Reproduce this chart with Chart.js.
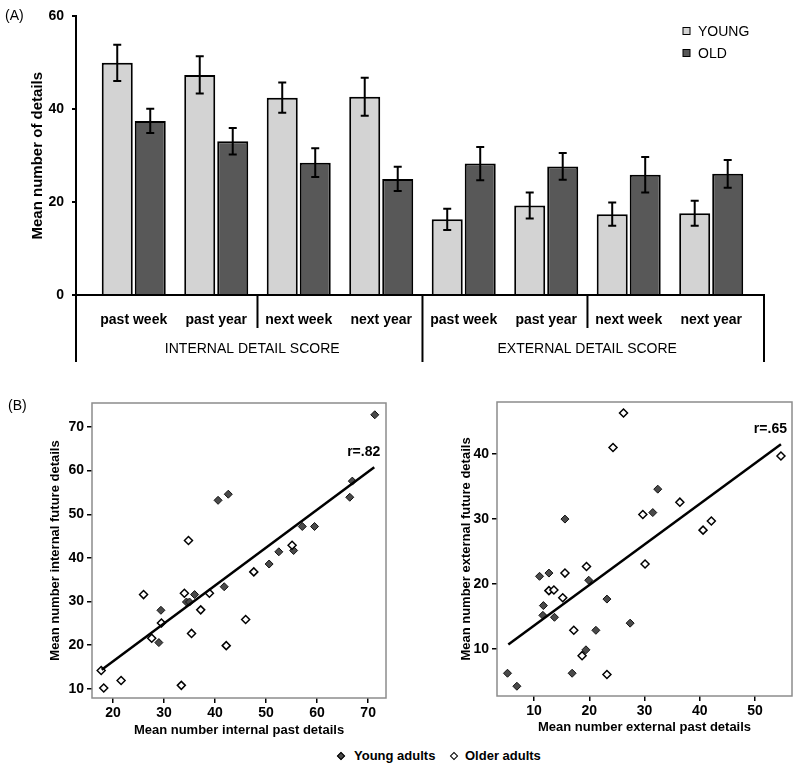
<!DOCTYPE html>
<html>
<head>
<meta charset="utf-8">
<script src="https://cdn.jsdelivr.net/npm/chart.js@4.4.1/dist/chart.umd.min.js"></script>
<style>
  body { margin: 0; background: #fff; }
  #page { position: relative; width: 800px; height: 770px; font-family: 'Liberation Sans', Arial, sans-serif; color: #000; }
  #page canvas { position: absolute; }
  .tag { position: absolute; font-size: 14px; line-height: 16px; }
  .dia { position: absolute; width: 4px; height: 4px; border: 1px solid #000; transform: rotate(45deg); }
  .leg { position: absolute; font-weight: bold; font-size: 13px; line-height: 16px; }
</style>
</head>
<body>
<div id="page">
  <canvas id="barChart" width="800" height="370" style="left:0;top:0"></canvas>
  <canvas id="internalChart" width="400" height="360" style="left:0;top:380px"></canvas>
  <canvas id="externalChart" width="400" height="360" style="left:400px;top:380px"></canvas>

  <div class="tag" style="left:5px;top:7px">(A)</div>
  <div class="tag" style="left:8px;top:397px">(B)</div>

  <div class="dia" style="left:338px;top:753px;background:#4a4a4a"></div>
  <div class="leg" style="left:354px;top:748px">Young adults</div>
  <div class="dia" style="left:451px;top:753px;background:#fff"></div>
  <div class="leg" style="left:465px;top:748px">Older adults</div>
</div>

<script>
const family = "'Liberation Sans', Arial, sans-serif";
Chart.defaults.font.family = family;
Chart.defaults.color = '#000';
Chart.defaults.animation = false;

// panel A
const categories = ['past week', 'past year', 'next week', 'next year', 'past week', 'past year', 'next week', 'next year'];
const groupLabels = ['INTERNAL DETAIL SCORE', 'EXTERNAL DETAIL SCORE'];
const seriesNames = ['YOUNG', 'OLD'];
const youngMeans = [50.0, 47.4, 42.5, 42.7, 16.3, 19.3, 17.4, 17.6];
const youngErrors = [3.9, 4.0, 3.25, 4.1, 2.3, 2.8, 2.5, 2.7];
const oldMeans = [37.5, 33.1, 28.5, 25.0, 28.3, 27.7, 25.9, 26.1];
const oldErrors = [2.6, 2.85, 3.1, 2.6, 3.6, 2.9, 3.8, 3.0];
const barTicks = [0, 20, 40, 60];

// panel B, [past, future]
const internalYoung = [[71.3, 72.8], [66.9, 57.6], [66.4, 53.9], [57.1, 47.2], [59.5, 47.2], [52.5, 41.4], [55.4, 41.7], [50.6, 38.6],
  [41.8, 33.4], [40.6, 53.2], [42.6, 54.6], [36.0, 31.6], [34.4, 29.9], [35.0, 29.9], [29.4, 28.0], [29.0, 20.6]];
const internalOlder = [[17.7, 14.2], [18.2, 10.2], [21.6, 11.9], [26.0, 31.6], [27.6, 21.6], [29.5, 25.1], [33.4, 10.8], [34.0, 31.9],
  [34.8, 44.0], [35.4, 22.7], [37.2, 28.1], [38.9, 31.9], [42.2, 19.9], [46.0, 25.9], [47.6, 36.8], [55.1, 42.9]];
const internalFit = [[17.8, 14.4], [71.2, 60.8]];
const externalYoung = [[5.2, 6.3], [6.9, 4.3], [11.0, 21.2], [12.7, 21.7], [11.7, 16.7], [11.6, 15.2], [13.7, 14.9], [15.6, 30.0],
  [16.9, 6.3], [19.9, 20.6], [19.4, 9.9], [21.2, 12.9], [23.2, 17.7], [27.4, 14.0], [31.5, 31.0], [32.4, 34.6]];
const externalOlder = [[12.7, 19.0], [13.6, 19.1], [15.6, 21.7], [15.2, 17.9], [17.2, 12.9], [18.7, 9.0], [19.5, 22.7], [23.2, 6.1],
  [24.3, 41.0], [26.2, 46.3], [29.7, 30.7], [30.1, 23.1], [36.4, 32.6], [40.6, 28.3], [42.1, 29.7], [54.7, 39.7]];
const externalFit = [[5.35, 10.7], [54.7, 41.5]];

const LIGHT = '#d3d3d3';
const DARK = '#585858';

const errorBars = {
  id: 'errorBars',
  afterDatasetsDraw(chart) {
    const ctx = chart.ctx;
    const y = chart.scales.y;
    const means = [youngMeans, oldMeans];
    const errs = [youngErrors, oldErrors];
    ctx.save();
    ctx.strokeStyle = '#000';
    ctx.lineWidth = 2;
    means.forEach(function(m, d) {
      chart.getDatasetMeta(d).data.forEach(function(bar, i) {
        const top = y.getPixelForValue(m[i] + errs[d][i]);
        const bot = y.getPixelForValue(m[i] - errs[d][i]);
        ctx.beginPath();
        ctx.moveTo(bar.x, top); ctx.lineTo(bar.x, bot);
        ctx.moveTo(bar.x - 4, top); ctx.lineTo(bar.x + 4, top);
        ctx.moveTo(bar.x - 4, bot); ctx.lineTo(bar.x + 4, bot);
        ctx.stroke();
      });
    });
    ctx.restore();
  }
};

const groupAxis = {
  id: 'groupAxis',
  afterDraw(chart) {
    const ctx = chart.ctx;
    const x = chart.scales.x;
    const area = chart.chartArea;
    const mid = x.getPixelForValue(3.5);
    ctx.save();
    ctx.strokeStyle = '#000';
    ctx.lineWidth = 2;
    function drop(px, len) {
      ctx.beginPath();
      ctx.moveTo(px, area.bottom);
      ctx.lineTo(px, area.bottom + len);
      ctx.stroke();
    }
    drop(area.left, 67);
    drop(x.getPixelForValue(1.5), 33);
    drop(mid, 67);
    drop(x.getPixelForValue(5.5), 33);
    drop(area.right, 67);

    ctx.fillStyle = '#000';
    ctx.font = '14px ' + family;
    ctx.textAlign = 'center';
    ctx.textBaseline = 'middle';
    ctx.fillText(groupLabels[0], (area.left + mid) / 2 + 3, area.bottom + 54);
    ctx.fillText(groupLabels[1], (mid + area.right) / 2 - 6, area.bottom + 54);

    // legend
    ctx.textAlign = 'left';
    ctx.lineWidth = 1;
    [LIGHT, DARK].forEach(function(c, i) {
      const cy = 31 + i * 22;
      ctx.fillStyle = c;
      ctx.fillRect(683, cy - 3.5, 7, 7);
      ctx.strokeRect(683, cy - 3.5, 7, 7);
      ctx.fillStyle = '#000';
      ctx.fillText(seriesNames[i], 698, cy + 1);
    });
    ctx.restore();
  }
};

new Chart(document.querySelector('#barChart'), {
  type: 'bar',
  data: {
    datasets: [{
      label: seriesNames[0],
      data: youngMeans.map(function(v, i) { return { x: i, y: v }; }),
      backgroundColor: LIGHT,
      borderColor: '#000',
      borderWidth: 2,
    },
    {
      label: seriesNames[1],
      data: oldMeans.map(function(v, i) { return { x: i, y: v }; }),
      backgroundColor: DARK,
      borderColor: '#000',
      borderWidth: 2,
    }]
  },
  options: {
    responsive: false,
    categoryPercentage: 0.8,
    barPercentage: 0.94,
    layout: { padding: { top: 15, right: 36, left: 0, bottom: 0 } },
    plugins: { legend: { display: false }, tooltip: { enabled: false } },
    scales: {
      x: {
        type: 'linear',
        min: -0.7,
        max: 7.64,
        offset: false,
        grid: { display: false, offset: false },
        border: { color: '#000', width: 2 },
        afterBuildTicks: function(s) { s.ticks = categories.map(function(c, i) { return { value: i }; }); },
        afterFit: function(s) { s.height = 75; },
        ticks: {
          autoSkip: false,
          maxRotation: 0,
          padding: 9,
          font: { size: 14, weight: 'bold' },
          callback: function(v) { return categories[v]; }
        }
      },
      y: {
        min: 0,
        max: 60,
        afterBuildTicks: function(s) { s.ticks = barTicks.map(function(v) { return { value: v }; }); },
        afterFit: function(s) { s.width = 76; },
        grid: { display: true, drawOnChartArea: false, tickLength: 4, color: '#000', lineWidth: 2 },
        border: { color: '#000', width: 2 },
        ticks: { padding: 8, font: { size: 14, weight: 'bold' } },
        title: {
          display: true,
          text: 'Mean number of details',
          font: { size: 15, weight: 'bold' },
          padding: { top: 29, bottom: 29 }
        }
      }
    }
  },
  plugins: [errorBars, groupAxis]
});

const boxAndLabel = {
  id: 'boxAndLabel',
  afterDraw(chart) {
    const ctx = chart.ctx;
    const area = chart.chartArea;
    ctx.save();
    ctx.strokeStyle = '#8c8c8c';
    ctx.lineWidth = 1.5;
    ctx.strokeRect(area.left, area.top, area.right - area.left, area.bottom - area.top);
    const end = chart.getDatasetMeta(0).data[1];
    ctx.fillStyle = '#000';
    ctx.font = 'bold 14px ' + family;
    ctx.textAlign = 'right';
    ctx.textBaseline = 'middle';
    ctx.fillText(chart.options.plugins.boxAndLabel.text, end.x + 6, end.y - 15);
    ctx.restore();
  }
};

function pts(list) {
  return list.map(function(p) { return { x: p[0], y: p[1] }; });
}

function makeScatter(sel, young, older, fit, cfg) {
  return new Chart(document.querySelector(sel), {
    type: 'scatter',
    data: {
      datasets: [{
        type: 'line',
        data: pts(fit),
        borderColor: '#000',
        borderWidth: 2.5,
        pointRadius: 0,
        order: 0,
      },
      {
        label: 'Young adults',
        data: pts(young),
        pointStyle: 'rectRot',
        pointRadius: 4,
        backgroundColor: '#4a4a4a',
        borderColor: '#111',
        borderWidth: 1,
        order: 2,
      },
      {
        label: 'Older adults',
        data: pts(older),
        pointStyle: 'rectRot',
        pointRadius: 4,
        backgroundColor: '#fff',
        borderColor: '#000',
        borderWidth: 1.5,
        order: 1,
      }]
    },
    options: {
      responsive: false,
      layout: { padding: cfg.padding },
      plugins: { legend: { display: false }, tooltip: { enabled: false }, boxAndLabel: { text: cfg.r } },
      scales: {
        x: {
          type: 'linear',
          min: cfg.x[0],
          max: cfg.x[1],
          grid: { display: true, drawOnChartArea: false, tickLength: 5, color: '#000', lineWidth: 1.5 },
          border: { display: false },
          afterFit: function(s) { s.height = cfg.xHeight; },
          ticks: { stepSize: 10, includeBounds: false, padding: 2, font: { size: 14, weight: 'bold' } },
          title: { display: true, text: cfg.xTitle, font: { size: 13, weight: 'bold' }, padding: { top: cfg.xPad, bottom: cfg.xPad } }
        },
        y: {
          min: cfg.y[0],
          max: cfg.y[1],
          grid: { display: true, drawOnChartArea: false, tickLength: 5, color: '#000', lineWidth: 1.5 },
          border: { display: false },
          afterFit: function(s) { s.width = cfg.yWidth; },
          ticks: { stepSize: 10, includeBounds: false, padding: 3, font: { size: 14, weight: 'bold' } },
          title: { display: true, text: cfg.yTitle, font: { size: 13, weight: 'bold' }, padding: { top: cfg.yPad, bottom: cfg.yPad } }
        }
      }
    },
    plugins: [boxAndLabel]
  });
}

makeScatter('#internalChart', internalYoung, internalOlder, internalFit, {
  x: [15.9, 73.5], y: [7.9, 75.5],
  padding: { top: 23, right: 14, left: 0, bottom: 0 },
  xHeight: 42, yWidth: 92, xPad: 2, yPad: 48,
  xTitle: 'Mean number internal past details',
  yTitle: 'Mean number internal future details',
  r: 'r=.82'
});

makeScatter('#externalChart', externalYoung, externalOlder, externalFit, {
  x: [3.3, 56.7], y: [2.8, 48],
  padding: { top: 22, right: 8, left: 0, bottom: 0 },
  xHeight: 44, yWidth: 97, xPad: 5, yPad: 59,
  xTitle: 'Mean number external past details',
  yTitle: 'Mean number external future details',
  r: 'r=.65'
});
</script>
</body>
</html>
